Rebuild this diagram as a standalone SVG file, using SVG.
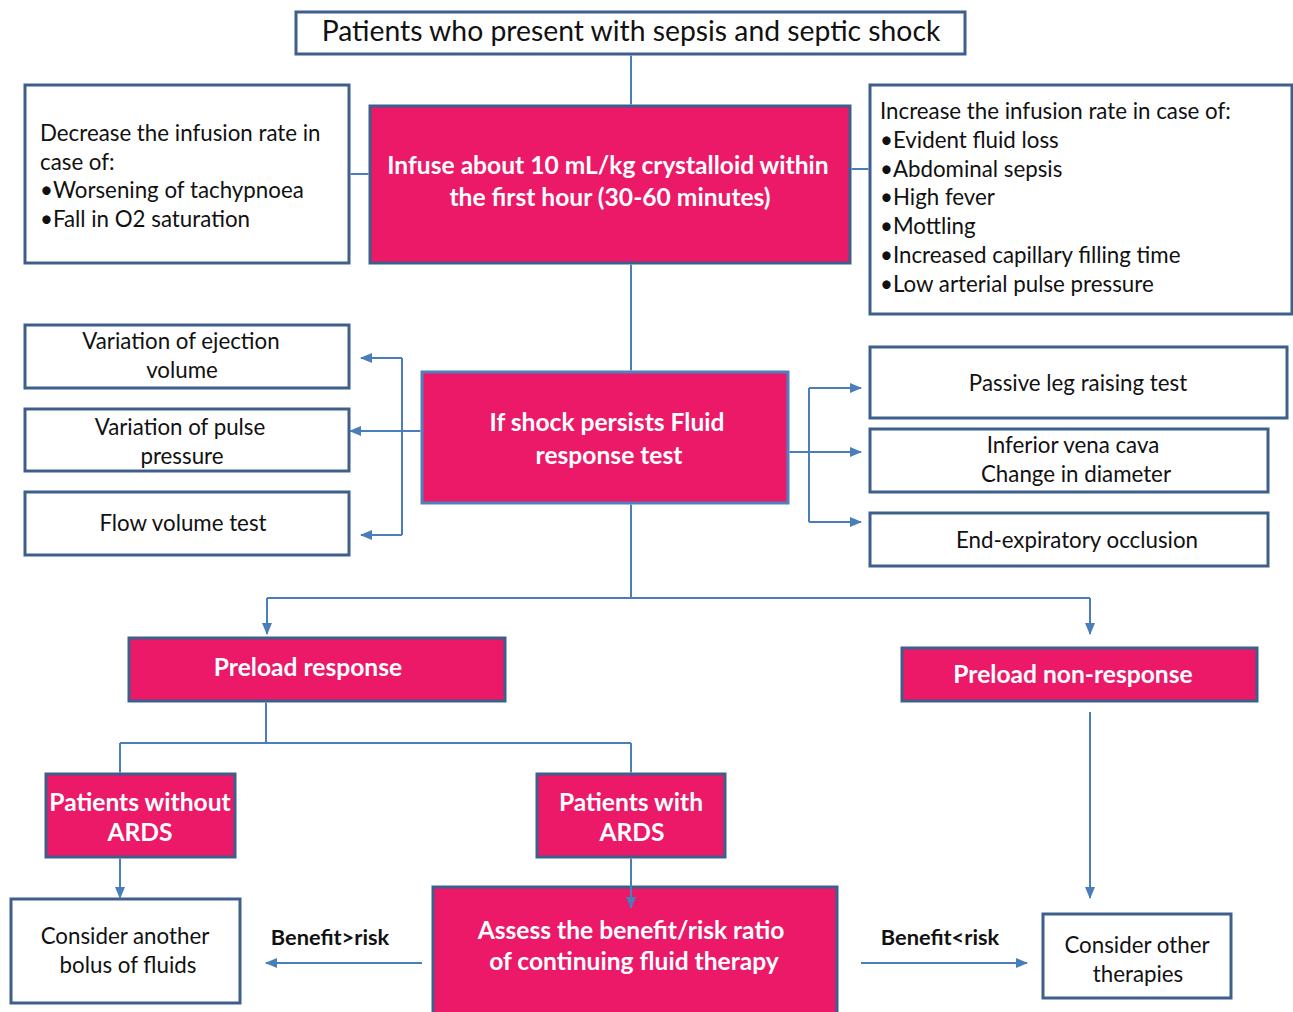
<svg xmlns="http://www.w3.org/2000/svg" width="1293" height="1012" viewBox="0 0 1293 1012">
<defs>
<style>
.wbox{fill:#ffffff;stroke:#3d5f8c;stroke-width:3}
.pbox{fill:#ec1868;stroke:#3d5f8c;stroke-width:3}
.pbox2{fill:#ec1868;stroke:#4f81bd;stroke-width:3}
.t{font-family:Lato,"Liberation Sans",sans-serif;font-size:22.3px;fill:#111111}
.tc{font-family:Lato,"Liberation Sans",sans-serif;font-size:22.3px;fill:#111111;text-anchor:middle}
.pt{font-family:Lato,"Liberation Sans",sans-serif;font-size:24.6px;font-weight:bold;fill:#ffffff;text-anchor:middle}
.bt{font-family:Lato,"Liberation Sans",sans-serif;font-size:21.8px;font-weight:bold;fill:#111111;text-anchor:middle}
.c{fill:none;stroke:#4a7ebb;stroke-width:2}
.ca{fill:none;stroke:#4a7ebb;stroke-width:2;marker-end:url(#ah)}
</style>
<marker id="ah" markerUnits="userSpaceOnUse" markerWidth="12" markerHeight="12" viewBox="0 0 12 12" refX="11" refY="6" orient="auto">
<path d="M0,1 L12,6 L0,11 Z" fill="#4a7ebb"/>
</marker>
</defs>

<g id="n-top">
<rect class="wbox" x="296" y="12" width="669" height="42"/>
<text class="tc" x="631" y="41" style="font-size:28.3px">Patients who present with sepsis and septic shock</text>
</g>

<g id="n-decrease">
<rect class="wbox" x="25" y="85" width="324" height="178"/>
<text class="t" x="40" y="141">Decrease the infusion rate in</text>
<text class="t" x="40" y="170">case of:</text>
<text class="t" x="40" y="198">•Worsening of tachypnoea</text>
<text class="t" x="40" y="227">•Fall in O2 saturation</text>
</g>

<g id="n-infuse">
<rect class="pbox" x="370" y="106" width="480" height="157"/>
<text class="pt" x="608" y="174">Infuse about 10 mL/kg crystalloid within</text>
<text class="pt" x="610" y="206">the first hour (30-60 minutes)</text>
</g>

<g id="n-increase">
<rect class="wbox" x="870" y="85" width="422" height="229"/>
<text class="t" x="880" y="119">Increase the infusion rate in case of:</text>
<text class="t" x="880" y="148">•Evident fluid loss</text>
<text class="t" x="880" y="177">•Abdominal sepsis</text>
<text class="t" x="880" y="205">•High fever</text>
<text class="t" x="880" y="234">•Mottling</text>
<text class="t" x="880" y="263">•Increased capillary filling time</text>
<text class="t" x="880" y="292">•Low arterial pulse pressure</text>
</g>

<g id="n-shock">
<rect class="pbox2" x="422" y="372" width="366" height="131"/>
<text class="pt" x="607" y="431">If shock persists Fluid</text>
<text class="pt" x="609" y="464">response test</text>
</g>

<g id="n-ejection">
<rect class="wbox" x="25" y="325" width="324" height="63"/>
<text class="tc" x="181" y="349">Variation of ejection</text>
<text class="tc" x="182" y="378">volume</text>
</g>

<g id="n-pulse">
<rect class="wbox" x="25" y="409" width="324" height="62"/>
<text class="tc" x="180" y="435">Variation of pulse</text>
<text class="tc" x="182" y="464">pressure</text>
</g>

<g id="n-flow">
<rect class="wbox" x="25" y="492" width="324" height="63"/>
<text class="tc" x="183" y="531">Flow volume test</text>
</g>

<g id="n-plr">
<rect class="wbox" x="870" y="347" width="417" height="71"/>
<text class="tc" x="1078" y="391">Passive leg raising test</text>
</g>

<g id="n-ivc">
<rect class="wbox" x="870" y="429" width="398" height="63"/>
<text class="tc" x="1073" y="453">Inferior vena cava</text>
<text class="tc" x="1076" y="482">Change in diameter</text>
</g>

<g id="n-eeo">
<rect class="wbox" x="870" y="513" width="398" height="53"/>
<text class="tc" x="1077" y="548">End-expiratory occlusion</text>
</g>

<g id="n-preload">
<rect class="pbox" x="129" y="638" width="376" height="63"/>
<text class="pt" x="308" y="676">Preload response</text>
</g>

<g id="n-nonresp">
<rect class="pbox" x="902" y="648" width="355" height="53"/>
<text class="pt" x="1073" y="683">Preload non-response</text>
</g>

<g id="n-without">
<rect class="pbox" x="46" y="774" width="189" height="83"/>
<text class="pt" x="140" y="811">Patients without</text>
<text class="pt" x="140" y="841">ARDS</text>
</g>

<g id="n-with">
<rect class="pbox" x="537" y="774" width="188" height="83"/>
<text class="pt" x="631" y="811">Patients with</text>
<text class="pt" x="632" y="841">ARDS</text>
</g>

<g id="n-bolus">
<rect class="wbox" x="11" y="899" width="229" height="104"/>
<text class="tc" x="125" y="944">Consider another</text>
<text class="tc" x="128" y="973">bolus of fluids</text>
</g>

<g id="n-assess">
<rect class="pbox" x="433" y="887" width="404" height="130"/>
<text class="pt" x="631" y="939">Assess the benefit/risk ratio</text>
<text class="pt" x="634" y="970">of continuing fluid therapy</text>
</g>

<g id="n-other">
<rect class="wbox" x="1043" y="914" width="188" height="84"/>
<text class="tc" x="1137" y="953">Consider other</text>
<text class="tc" x="1138" y="982">therapies</text>
</g>

<g id="labels">
<text class="bt" x="330" y="945">Benefit&gt;risk</text>
<text class="bt" x="940" y="945">Benefit&lt;risk</text>
</g>

<g id="connectors">
<path class="c" d="M631,55.5 V104.5"/>
<path class="c" d="M350.5,174 H368.5"/>
<path class="c" d="M851.5,169 H868.5"/>
<path class="c" d="M631,264.5 V370.5"/>
<path class="c" d="M420.5,431 H402"/>
<path class="c" d="M402,358 V535"/>
<path class="ca" d="M402,358 H361"/>
<path class="ca" d="M402,431 H350"/>
<path class="ca" d="M402,535 H361"/>
<path class="c" d="M789.5,452 H809"/>
<path class="c" d="M809,388 V522"/>
<path class="ca" d="M809,388 H861"/>
<path class="ca" d="M809,452 H861"/>
<path class="ca" d="M809,522 H861"/>
<path class="c" d="M631,504.5 V598"/>
<path class="c" d="M267,598 H1090"/>
<path class="ca" d="M267,598 V634"/>
<path class="ca" d="M1090,598 V634"/>
<path class="c" d="M266,702.5 V743"/>
<path class="c" d="M120,743 H631"/>
<path class="c" d="M120,743 V772.5"/>
<path class="c" d="M631,743 V772.5"/>
<path class="ca" d="M120,858.5 V898"/>
<path class="ca" d="M631,858.5 V908"/>
<path class="ca" d="M1090,712 V898"/>
<path class="ca" d="M422,963 H266"/>
<path class="ca" d="M861,963 H1027"/>
</g>
</svg>
